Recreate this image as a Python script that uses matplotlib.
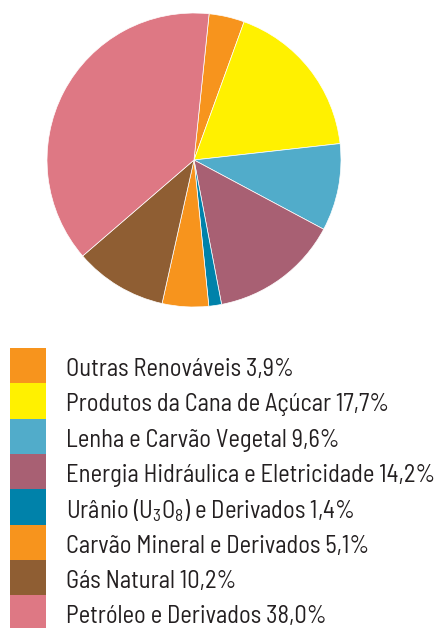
import matplotlib
matplotlib.use("Agg")
import matplotlib.pyplot as plt
from matplotlib.patches import Rectangle
from matplotlib import font_manager
from matplotlib.font_manager import FontProperties

labels = ["Outras Renováveis 3,9%",
          "Produtos da Cana de Açúcar 17,7%",
          "Lenha e Carvão Vegetal 9,6%",
          "Energia Hidráulica e Eletricidade 14,2%",
          "Urânio (U$\\mathregular{_3}$O$\\mathregular{_8}$) e Derivados 1,4%",
          "Carvão Mineral e Derivados 5,1%",
          "Gás Natural 10,2%",
          "Petróleo e Derivados 38,0%"]
values = [3.9, 17.7, 9.6, 14.2, 1.4, 5.1, 10.2, 38.0]
colors = ["#F7941D", "#FFF100", "#51ACCA", "#A86073", "#0082AA",
          "#F7941D", "#8F5E33", "#DE7884"]


def find_font(keys):
    for k in keys:
        for f in font_manager.fontManager.ttflist:
            if f.fname.split("/")[-1] == k:
                return f.fname
    return None


fpath = find_font(["BarlowSemiCondensed-Regular.ttf", "DejaVuSansCondensed.ttf"])
prop = FontProperties(fname=fpath, size=17.6) if fpath else FontProperties(family="DejaVu Sans", size=14.5)

W, H = 442, 628
fig = plt.figure(figsize=(W / 100, H / 100), dpi=100)

cx, cy, r = 194, 160, 147
ax = fig.add_axes([(cx - r) / W, (H - cy - r) / H, 2 * r / W, 2 * r / H])
ax.pie(values, colors=colors, startangle=84.1, counterclock=False, radius=1,
       wedgeprops=dict(linewidth=0.5, edgecolor="white"))
ax.set_xlim(-1, 1)
ax.set_ylim(-1, 1)
ax.set_aspect("equal")
ax.axis("off")

lax = fig.add_axes([0, 0, 1, 1])
lax.set_xlim(0, W)
lax.set_ylim(H, 0)
lax.axis("off")
top, row = 348, 35.3
for i, (lab, col) in enumerate(zip(labels, colors)):
    y0 = top + i * row
    lax.add_patch(Rectangle((10, y0), 36, row + 0.3, facecolor=col, edgecolor="none"))
    lax.text(66, y0 + row / 2 + 4, lab, fontproperties=prop, color="#231F20",
             va="center", ha="left")

fig.savefig("out.png", dpi=100)
